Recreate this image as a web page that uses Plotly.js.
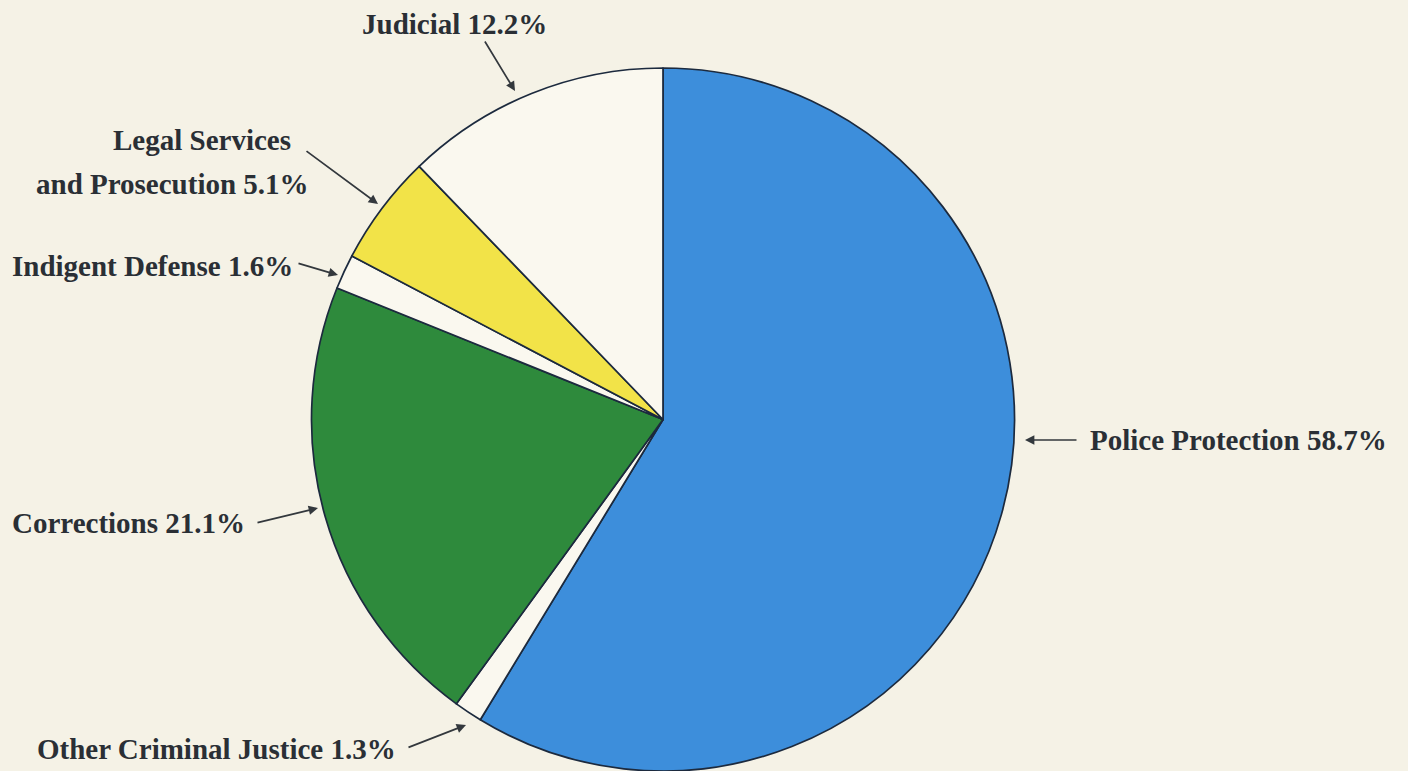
<!DOCTYPE html>
<html>
<head>
<meta charset="utf-8">
<script src="https://cdn.plot.ly/plotly-3.0.1.min.js"></script>
<style>html,body{margin:0;padding:0;background:#f5f2e6;}#chart{width:1408px;height:771px;}</style>
</head>
<body>
<div id="chart"></div>
<script>
// Data
const categories = ["Police Protection", "Other Criminal Justice", "Corrections", "Indigent Defense", "Legal Services and Prosecution", "Judicial"];
const shares = [58.7, 1.3, 21.1, 1.6, 5.1, 12.2];
const labelLines = [["Police Protection"], ["Other Criminal Justice"], ["Corrections"], ["Indigent Defense"], ["Legal Services", "and Prosecution"], ["Judicial"]];
const sliceColors = ["#3d8edb", "#faf8ef", "#2e8a3c", "#faf8ef", "#f2e348", "#faf8ef"];

const W = 1408, H = 771;
const px = x => x / W;
const py = y => 1 - y / H;

// label placement (pixel centres of each text line, arrow tail and head)
const place = [
  {lines: [[1238, 440]], tail: [1078, 440], head: [1025, 440]},
  {lines: [[216, 749]], tail: [407, 748], head: [466, 725]},
  {lines: [[128, 523]], tail: [256, 523], head: [318, 508]},
  {lines: [[152, 266]], tail: [297, 263], head: [338, 275]},
  {lines: [[202, 140], [172, 184]], tail: [305, 150], head: [378, 204]},
  {lines: [[454, 24]], tail: [484, 40], head: [515, 91]}
];

const font = {family: "Liberation Serif, Times New Roman, serif", size: 29, color: "#2a2f35"};
const annotations = [];
categories.forEach((c, i) => {
  const p = place[i];
  const ls = labelLines[i];
  ls.forEach((t, j) => {
    const last = j === ls.length - 1;
    annotations.push({
      xref: "paper", yref: "paper", x: px(p.lines[j][0]), y: py(p.lines[j][1]),
      text: "<b>" + t + (last ? " " + shares[i].toFixed(1) + "%" : "") + "</b>",
      showarrow: false, xanchor: "center", yanchor: "middle", align: "center",
      font: font
    });
  });
  annotations.push({
    xref: "paper", yref: "paper", x: px(p.head[0]), y: py(p.head[1]),
    ax: p.tail[0] - p.head[0], ay: p.tail[1] - p.head[1],
    axref: "pixel", ayref: "pixel",
    text: "", showarrow: true, arrowhead: 2, arrowsize: 1.1, arrowwidth: 1.7,
    arrowcolor: "#33383d", standoff: 0, startstandoff: 0
  });
});

const trace = {
  type: "pie",
  labels: categories,
  values: shares,
  sort: false,
  direction: "clockwise",
  rotation: 0,
  textinfo: "none",
  hoverinfo: "label+percent",
  marker: {colors: sliceColors, line: {color: "#1c2a3e", width: 1.7}},
  domain: {x: [px(663 - 352), px(663 + 352)], y: [0, py(68)]},
  showlegend: false
};

Plotly.newPlot("chart", [trace], {
  width: W, height: H,
  margin: {l: 0, r: 0, t: 0, b: 0},
  paper_bgcolor: "#f5f2e6",
  plot_bgcolor: "#f5f2e6",
  showlegend: false,
  annotations: annotations
}, {displayModeBar: false, staticPlot: true});
</script>
</body>
</html>
